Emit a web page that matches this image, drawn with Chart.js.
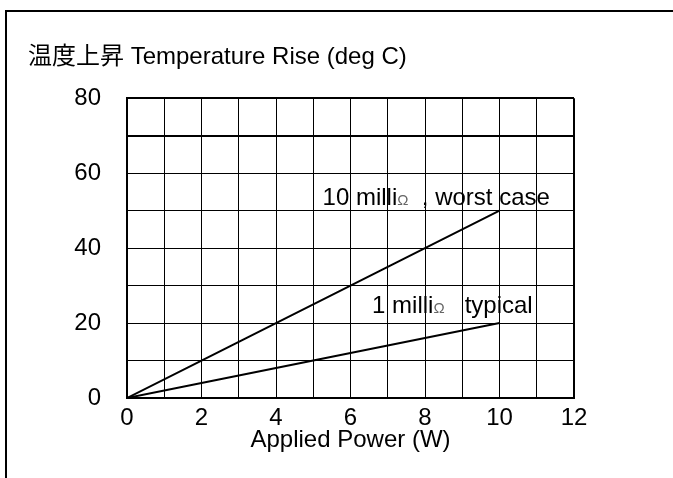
<!DOCTYPE html>
<html lang="en">
<head>
    <meta charset="UTF-8">
    <title>Temperature Rise vs Applied Power</title>
    <script src="https://cdn.jsdelivr.net/npm/chart.js"></script>
    <style>
        body { margin: 0; background: #fff; }
        #frame { position: absolute; left: 5px; top: 10px; width: 720px; height: 520px; border: 2px solid #000; }
        #riseChart { position: absolute; left: 0; top: 0; }
    </style>
</head>
<body>
    <div id="frame"></div>
    <canvas id="riseChart" width="673" height="478"></canvas>

    <script>
        // values
        const powerW = [0, 2, 4, 6, 8, 10];
        const worstCase = [0, 10, 20, 30, 40, 50];   // 10 milliΩ
        const typical = [0, 4, 8, 12, 16, 20];       // 1 milliΩ
        const xTicks = [0, 2, 4, 6, 8, 10, 12];
        const yTicks = [0, 20, 40, 60, 80];

        const FONT = '"Liberation Sans", Arial, "Noto Sans CJK JP", sans-serif';

        function toPoints(ys) {
            return powerW.map((x, i) => ({ x: x, y: ys[i] }));
        }

        // labels next to the lines, anchored in data units
        const lineLabels = {
            id: 'lineLabels',
            afterDatasetsDraw(chart) {
                const ctx = chart.ctx;
                const xs = chart.scales.x, ys = chart.scales.y;
                const items = [
                    { x: 5.25, y: 51.5, parts: ['10 milli', 'Ω', '  , worst case'] },
                    { x: 6.58, y: 22.7, parts: ['1 milli', 'Ω', '   typical'] }
                ];
                ctx.save();
                ctx.textBaseline = 'alphabetic';
                items.forEach(it => {
                    let px = xs.getPixelForValue(it.x);
                    const py = ys.getPixelForValue(it.y);
                    it.parts.forEach((t, i) => {
                        if (i === 1) {
                            ctx.font = '15px ' + FONT;
                            ctx.fillStyle = '#666';
                        } else {
                            ctx.font = '24px ' + FONT;
                            ctx.fillStyle = '#000';
                        }
                        ctx.fillText(t, px, py);
                        px += ctx.measureText(t).width;
                    });
                });
                ctx.restore();
            }
        };

        const gridStyle = (edgeVal, thickVal) => ({
            color: '#000',
            drawTicks: false,
            lineWidth: c => (c.tick && (c.tick.value === edgeVal || c.tick.value === thickVal)) ? 2 : 1
        });

        new Chart(document.getElementById('riseChart'), {
            type: 'line',
            data: {
                datasets: [
                    { label: '10 milliΩ, worst case', data: toPoints(worstCase), borderColor: '#000', borderWidth: 2, pointRadius: 0, tension: 0 },
                    { label: '1 milliΩ typical', data: toPoints(typical), borderColor: '#000', borderWidth: 2, pointRadius: 0, tension: 0 }
                ]
            },
            options: {
                responsive: false,
                animation: false,
                layout: { padding: { left: 28, right: 99, top: 0, bottom: 0 } },
                plugins: {
                    legend: { display: false },
                    tooltip: { enabled: false },
                    title: {
                        display: true,
                        text: '温度上昇 Temperature Rise (deg C)',
                        align: 'start',
                        color: '#000',
                        font: { family: FONT, size: 24, weight: 'normal' },
                        padding: { top: 43, bottom: 26.5 }
                    }
                },
                scales: {
                    x: {
                        type: 'linear',
                        min: 0,
                        max: 12,
                        afterFit: s => { s.height = 80; },
                        border: { color: '#000', width: 2 },
                        grid: gridStyle(12, null),
                        ticks: {
                            stepSize: 1,
                            padding: 6,
                            color: '#000',
                            font: { family: FONT, size: 24 },
                            callback: v => xTicks.includes(v) ? String(v) : ''
                        },
                        title: {
                            display: true,
                            text: 'Applied Power (W)',
                            color: '#000',
                            font: { family: FONT, size: 24 },
                            padding: { top: 0, bottom: 23 }
                        }
                    },
                    y: {
                        min: 0,
                        max: 80,
                        afterFit: s => { s.width = 99; },
                        border: { color: '#000', width: 2 },
                        grid: gridStyle(80, 70),
                        ticks: {
                            stepSize: 10,
                            padding: 26,
                            color: '#000',
                            font: { family: FONT, size: 24 },
                            callback: v => yTicks.includes(v) ? String(v) : ''
                        }
                    }
                }
            },
            plugins: [lineLabels]
        });
    </script>
</body>
</html>
